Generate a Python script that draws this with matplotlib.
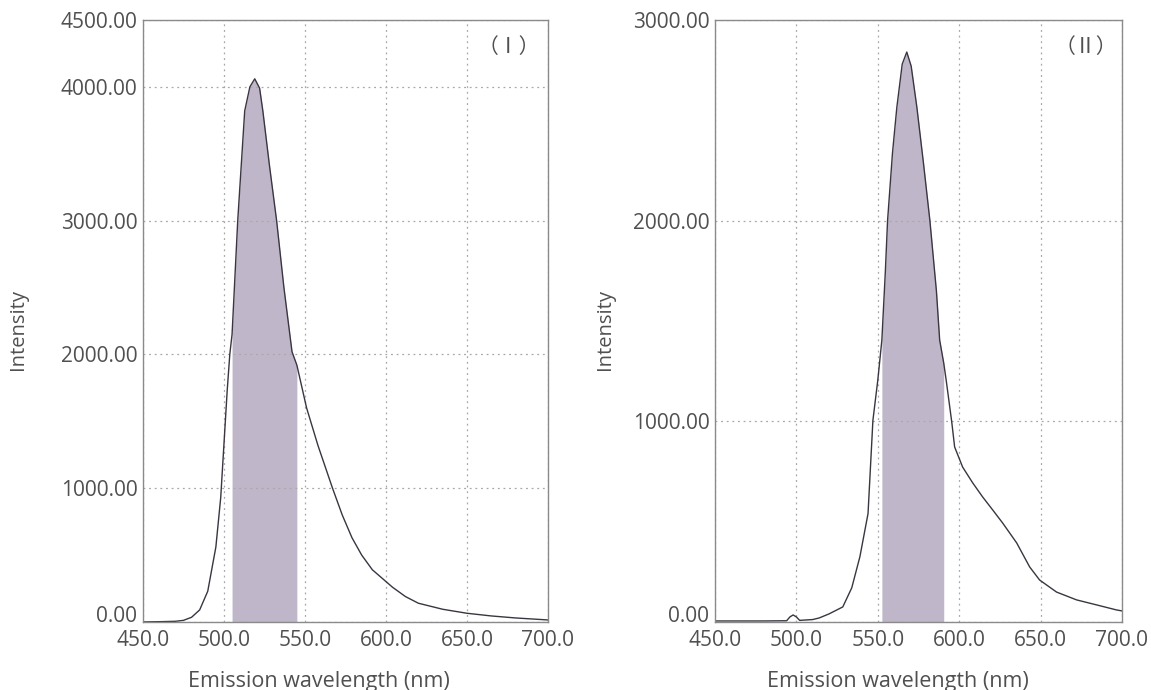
import numpy as np
import matplotlib.pyplot as plt
import matplotlib.transforms as mtransforms

plt.rcParams['font.family'] = ['Open Sans', 'DejaVu Sans']

# spectrum (I): emission wavelength (nm) and intensity
wl_1 = [450, 460, 470, 475, 480, 485, 490, 495, 498, 502, 503.6, 505, 508.5, 512.8, 516, 519,
        522, 524, 528, 532.5, 537, 542, 545, 551, 558, 567, 573, 579, 585, 591.6, 604, 612,
        620, 635, 650, 665, 680, 700]
int_1 = [0, 2, 5, 12, 35, 90, 230, 560, 930, 1730, 2000, 2150, 3000, 3820, 4000, 4060,
         3990, 3820, 3420, 3000, 2500, 2020, 1920, 1600, 1320, 1000, 800, 630, 500, 390, 260, 190,
         140, 95, 65, 45, 30, 15]
band_1 = (505, 545)

# spectrum (II)
wl_2 = [450, 480, 494, 496, 498, 500, 502, 510, 514, 520, 528.5, 534, 539, 544, 547, 550,
        552.5, 554.6, 556, 559, 561.7, 565, 567.8, 570.5, 574, 578, 582, 586, 588, 590.5,
        592, 595.4, 597.2, 602.1, 608.3, 614.4, 620.6, 626.7, 635.3, 643.3, 649.4, 659.8,
        672.1, 684.4, 696.6, 700]
int_2 = [5, 5, 6, 25, 35, 25, 8, 12, 20, 40, 75, 170, 325, 540, 1005, 1205,
         1405, 1740, 2000, 2335, 2565, 2780, 2840, 2770, 2565, 2290, 2000, 1650, 1405, 1290,
         1205, 998, 872, 772, 693, 623, 558, 493, 394, 274, 209, 149,
         110, 85, 60, 55]
band_2 = (552.5, 590.5)

yticks_1 = [0, 1000, 2000, 3000, 4000, 4500]
yticks_2 = [0, 1000, 2000, 3000]
xticks = [450, 500, 550, 600, 650, 700]

fig = plt.figure(figsize=(11.51, 6.9), dpi=100)
ax1 = fig.add_axes([0.1242, 0.0986, 0.3519, 0.8725])
ax2 = fig.add_axes([0.6212, 0.0986, 0.3536, 0.8725])

panels = [(ax1, wl_1, int_1, band_1, yticks_1, 4500, '（Ⅰ）', 0.904),
          (ax2, wl_2, int_2, band_2, yticks_2, 3000, '（Ⅱ）', 0.912)]

for ax, wl, inten, band, yt, ymax, tag, tx in panels:
    wl = np.array(wl)
    inten = np.array(inten)
    mask = (wl >= band[0]) & (wl <= band[1])
    ax.fill_between(wl, 0, inten, where=mask, color='#bfb7c9', lw=0)
    ax.plot(wl, inten, color='#3a3540', lw=1.0)
    ax.set_xlim(450, 700)
    ax.set_ylim(0, ymax)
    ax.set_xticks(xticks)
    ax.set_xticklabels([f'{v:.1f}' for v in xticks])
    ax.set_yticks(yt)
    ax.set_yticklabels([f'{v:.2f}' for v in yt])
    ax.grid(True, linestyle=(0, (1.5, 3)), color='#a8a8a8', lw=0.9)
    ax.tick_params(axis='y', length=0, labelsize=15, labelcolor='#505050', pad=4)
    ax.tick_params(axis='x', length=0, labelsize=15, labelcolor='#505050', pad=6)
    for s in ax.spines.values():
        s.set_color('#8a8a8a')
        s.set_linewidth(1.0)
    # lift the "0.00" label a little so it clears the x tick labels
    lab0 = ax.get_yticklabels()[0]
    lab0.set_transform(lab0.get_transform() +
                       mtransforms.ScaledTranslation(0, 6 / 72, fig.dpi_scale_trans))
    ax.text(tx, 0.955, tag, transform=ax.transAxes, ha='center', va='center',
            fontsize=15, color='#505050', family=['Noto Sans CJK SC', 'DejaVu Sans'])

fig.text(0.016, 0.522, 'Intensity', rotation=90, ha='center', va='center',
         fontsize=14.5, color='#505050')
fig.text(0.526, 0.522, 'Intensity', rotation=90, ha='center', va='center',
         fontsize=14.5, color='#505050')
fig.text(0.277, 0.013, 'Emission wavelength (nm)', ha='center', va='center',
         fontsize=15.5, color='#505050')
fig.text(0.780, 0.013, 'Emission wavelength (nm)', ha='center', va='center',
         fontsize=15.5, color='#505050')

fig.savefig('out.png', dpi=100)
